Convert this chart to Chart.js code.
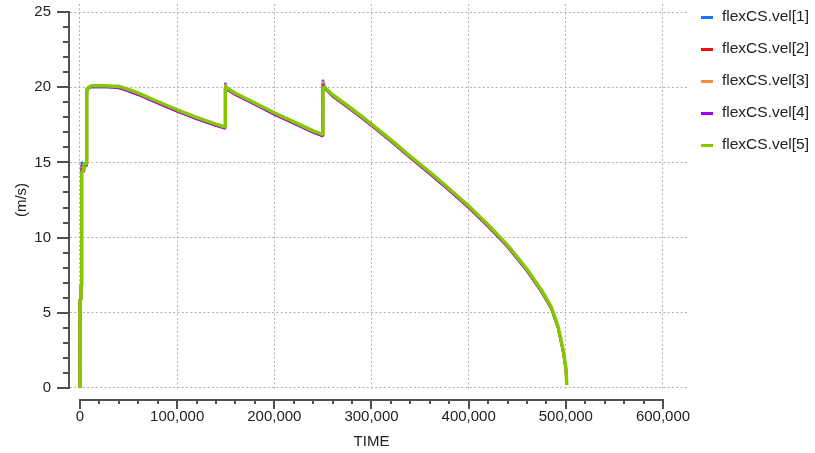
<!DOCTYPE html>
<html>
<head>
<meta charset="utf-8">
<script src="https://cdn.jsdelivr.net/npm/chart.js@4.4.0/dist/chart.umd.min.js"></script>
<style>
  html, body { margin: 0; padding: 0; background: #fff; }
  canvas { display: block; }
</style>
</head>
<body>
<canvas id="vel-chart" width="815" height="453"></canvas>
<script>
// values
const seriesNames = ['flexCS.vel[1]', 'flexCS.vel[2]', 'flexCS.vel[3]', 'flexCS.vel[4]', 'flexCS.vel[5]'];
const seriesColors = ['#1f6fff', '#ee1111', '#ff8a3d', '#a100f2', '#84c800'];

const time = [
    0, 0, 1000, 1000, 1800, 1800, 3500, 4000, 7000, 7000,
    9000, 12000, 25000, 40000, 50000, 60000, 80000, 100000, 120000, 140000,
    149500, 149500, 151000, 160000, 180000, 200000, 220000, 240000, 250000, 250000,
    251500, 260000, 280000, 300000, 320000, 340000, 360000, 380000, 400000, 420000,
    440000, 460000, 475000, 485000, 492000, 497000, 500000, 501000
];

const vel1 = [
    0, 5.9, 5.9, 6.8, 6.8, 15.05, 14.5, 14.9, 14.9, 19.9,
    20.0, 20.0, 20.0, 20.0, 19.8, 19.55, 19.0, 18.45, 17.95, 17.5,
    17.3, 20.3, 19.9, 19.55, 18.9, 18.25, 17.65, 17.05, 16.8, 20.5,
    20.05, 19.45, 18.5, 17.5, 16.45, 15.35, 14.3, 13.2, 12.05, 10.8,
    9.45, 7.85, 6.45, 5.35, 4.05, 2.55, 1.35, 0.2
];
const vel2 = [
    0, 5.9, 5.9, 6.8, 6.8, 14.8, 14.4, 14.8, 14.8, 19.8,
    20.0, 20.05, 20.05, 20.0, 19.75, 19.5, 18.95, 18.4, 17.9, 17.45,
    17.3, 20.1, 19.85, 19.5, 18.85, 18.2, 17.6, 17.0, 16.75, 20.3,
    19.95, 19.4, 18.45, 17.45, 16.4, 15.3, 14.25, 13.15, 12.0, 10.75,
    9.4, 7.8, 6.4, 5.3, 4.0, 2.5, 1.3, 0.2
];
const vel3 = [
    0, 5.9, 5.9, 6.8, 6.8, 14.7, 14.45, 14.85, 14.85, 19.8,
    20.0, 20.1, 20.1, 20.0, 19.8, 19.55, 19.0, 18.45, 17.95, 17.5,
    17.3, 20.2, 19.9, 19.55, 18.9, 18.25, 17.65, 17.05, 16.8, 20.4,
    20.0, 19.45, 18.5, 17.5, 16.45, 15.35, 14.3, 13.2, 12.05, 10.8,
    9.45, 7.85, 6.45, 5.35, 4.05, 2.55, 1.35, 0.2
];
const vel4 = [
    0, 5.9, 5.9, 6.8, 6.8, 14.6, 14.4, 14.8, 14.8, 19.75,
    19.95, 20.05, 20.05, 19.95, 19.75, 19.5, 18.95, 18.4, 17.9, 17.45,
    17.25, 20.0, 19.85, 19.5, 18.85, 18.2, 17.6, 17.0, 16.75, 20.2,
    19.95, 19.4, 18.45, 17.45, 16.4, 15.3, 14.25, 13.15, 12.0, 10.75,
    9.4, 7.8, 6.4, 5.3, 4.0, 2.5, 1.3, 0.2
];
const vel5 = [
    0, 5.9, 5.9, 6.8, 6.8, 14.3, 14.5, 14.9, 14.9, 19.8,
    20.0, 20.1, 20.1, 20.05, 19.85, 19.6, 19.05, 18.5, 18.0, 17.55,
    17.35, 19.95, 19.95, 19.6, 18.95, 18.3, 17.7, 17.1, 16.85, 20.0,
    20.0, 19.5, 18.55, 17.55, 16.5, 15.4, 14.35, 13.25, 12.1, 10.85,
    9.5, 7.9, 6.5, 5.4, 4.1, 2.6, 1.4, 0.2
];

const xTicks = [0, 100000, 200000, 300000, 400000, 500000, 600000];
const yTicks = [0, 5, 10, 15, 20, 25];
const xMinorStep = 20000;
const yMinorStep = 1;
const xTitle = 'TIME';
const yTitle = '(m/s)';

const FONT_FAMILY = 'Liberation Sans';
const FONT_SIZE = 15;
const TEXT_COLOR = '#222';
const AXIS_COLOR = '#505050';

const allSeries = [vel1, vel2, vel3, vel4, vel5];

const frameAndLegend = {
    id: 'frameAndLegend',
    afterDraw(chart) {
        const { ctx } = chart;
        const xs = chart.scales.x;
        const ys = chart.scales.y;
        ctx.save();
        ctx.strokeStyle = AXIS_COLOR;
        ctx.lineWidth = 2;

        // y axis line + ticks
        const yTop = Math.round(ys.getPixelForValue(yTicks[yTicks.length - 1]));
        const yBot = Math.round(ys.getPixelForValue(yTicks[0]));
        ctx.beginPath();
        ctx.moveTo(69, yTop - 1);
        ctx.lineTo(69, yBot + 1);
        for (let v = yTicks[0]; v <= yTicks[yTicks.length - 1]; v += yMinorStep) {
            const py = Math.round(ys.getPixelForValue(v));
            const major = yTicks.includes(v);
            ctx.moveTo(major ? 57 : 63, py);
            ctx.lineTo(70, py);
        }
        ctx.stroke();

        // x axis line + ticks (drawn below the plot)
        const xLeft = Math.round(xs.getPixelForValue(xTicks[0]));
        const xRight = Math.round(xs.getPixelForValue(xTicks[xTicks.length - 1]));
        const axisY = 400;
        ctx.beginPath();
        ctx.moveTo(xLeft - 1, axisY);
        ctx.lineTo(xRight + 1, axisY);
        for (let v = xTicks[0]; v <= xTicks[xTicks.length - 1]; v += xMinorStep) {
            const px = Math.round(xs.getPixelForValue(v));
            const major = xTicks.includes(v);
            ctx.moveTo(px, axisY);
            ctx.lineTo(px, major ? 409 : 404);
        }
        ctx.stroke();

        // axis titles
        ctx.fillStyle = TEXT_COLOR;
        ctx.font = FONT_SIZE + 'px "' + FONT_FAMILY + '"';
        ctx.textAlign = 'center';
        ctx.textBaseline = 'middle';
        ctx.fillText(xTitle, (xLeft + xRight) / 2, 442);
        ctx.save();
        ctx.translate(22, (yTop + yBot) / 2);
        ctx.rotate(-Math.PI / 2);
        ctx.fillText(yTitle, 0, 0);
        ctx.restore();

        // legend
        ctx.textAlign = 'left';
        ctx.font = '15.5px "' + FONT_FAMILY + '"';
        chart.data.datasets.forEach((ds, i) => {
            const cy = 17 + 32 * i;
            ctx.fillStyle = ds.borderColor;
            ctx.fillRect(701, cy - 1, 12, 3);
            ctx.fillStyle = TEXT_COLOR;
            ctx.fillText(ds.label, 722, cy);
        });
        ctx.restore();
    }
};

new Chart(document.getElementById('vel-chart'), {
    type: 'line',
    data: {
        datasets: allSeries.map((vals, i) => ({
            label: seriesNames[i],
            data: vals.map((v, k) => ({ x: time[k], y: v })),
            borderColor: seriesColors[i],
            backgroundColor: seriesColors[i],
            borderWidth: i === 4 ? 3.5 : 2.5,
            borderJoinStyle: 'bevel',
            pointRadius: 0,
            tension: 0,
            fill: false,
            order: 4 - i
        }))
    },
    options: {
        responsive: false,
        animation: false,
        layout: { padding: { top: 4, right: 127, left: 0, bottom: 0 } },
        plugins: {
            legend: { display: false },
            tooltip: { enabled: false }
        },
        scales: {
            x: {
                type: 'linear',
                min: -10290,
                max: 625730,
                afterBuildTicks: s => { s.ticks = xTicks.map(v => ({ value: v })); },
                afterFit: s => { s.height = 63; s.paddingLeft = 0; s.paddingRight = 0; },
                grid: { color: '#b0b0b0', lineWidth: 1, drawTicks: false },
                border: { display: false, dash: [2, 2.3] },
                ticks: {
                    autoSkip: false,
                    maxRotation: 0,
                    padding: 18,
                    color: TEXT_COLOR,
                    font: { family: FONT_FAMILY, size: FONT_SIZE },
                    callback: v => v.toLocaleString('en-US')
                }
            },
            y: {
                type: 'linear',
                min: -0.133,
                max: 25.532,
                afterBuildTicks: s => { s.ticks = yTicks.map(v => ({ value: v })); },
                afterFit: s => { s.width = 70; s.paddingTop = 0; s.paddingBottom = 0; },
                grid: { color: '#b0b0b0', lineWidth: 1, drawTicks: false },
                border: { display: false, dash: [2, 2.3] },
                ticks: {
                    padding: 19,
                    color: TEXT_COLOR,
                    font: { family: FONT_FAMILY, size: FONT_SIZE },
                    callback: v => String(v)
                }
            }
        }
    },
    plugins: [frameAndLegend]
});
</script>
</body>
</html>
